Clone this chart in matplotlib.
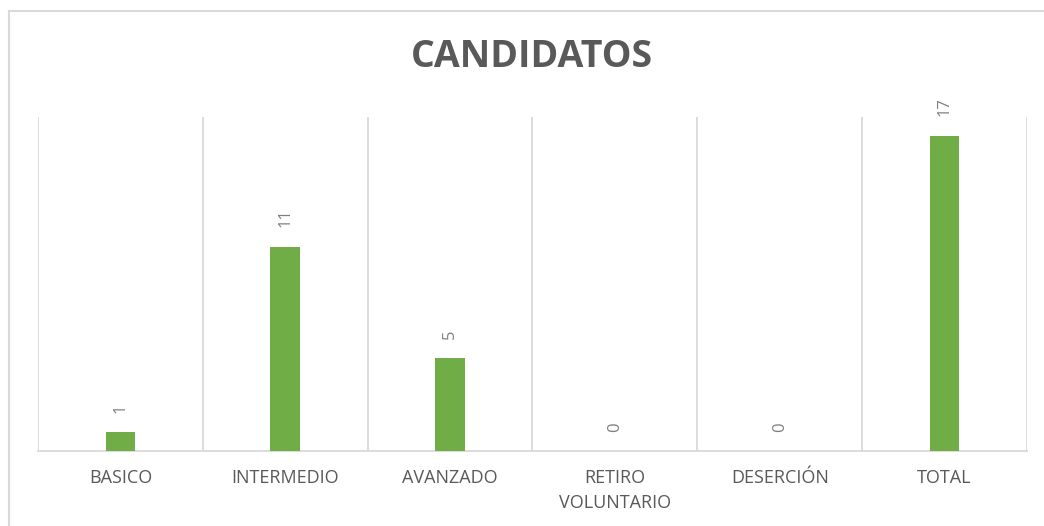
import matplotlib.pyplot as plt
from matplotlib.patches import Rectangle

# chart data
categories = ["BASICO", "INTERMEDIO", "AVANZADO", "RETIRO\nVOLUNTARIO", "DESERCIÓN", "TOTAL"]
values = [1, 11, 5, 0, 0, 17]
title = "CANDIDATOS"

bar_color = "#70AD47"
text_color = "#595959"
grid_color = "#D9D9D9"

plt.rcParams["font.family"] = ["Open Sans", "DejaVu Sans"]

fig = plt.figure(figsize=(10.44, 5.26), dpi=100)
W, H = 1044, 526
ax = fig.add_axes([38 / W, 1 - 451 / H, (1027 - 38) / W, (451 - 117) / H])

x = list(range(len(categories)))
bars = ax.bar(x, values, width=0.18, color=bar_color, zorder=3)

ax.set_xlim(-0.5, len(categories) - 0.5)
ax.set_ylim(0, 18)

# vertical separators between categories
for b in [i - 0.5 for i in range(len(categories) + 1)]:
    ax.axvline(b, color=grid_color, lw=1.3, zorder=1)

for s in ["top", "right", "left"]:
    ax.spines[s].set_visible(False)
ax.spines["bottom"].set_color(grid_color)
ax.spines["bottom"].set_linewidth(1.3)
ax.set_yticks([])
ax.set_xticks(x)
ax.set_xticklabels(categories, fontsize=13, color=text_color, linespacing=1.5)
ax.tick_params(axis="x", length=0, pad=13)

# value labels
for xi, v in zip(x, values):
    ax.annotate(str(v), (xi, v), xytext=(0, 14), textcoords="offset points",
                rotation=90, ha="center", va="bottom", fontsize=12,
                color="#7F7F7F")

fig.text(532 / W, 1 - 57 / H, title, ha="center", va="center",
         fontsize=27, fontweight="bold", color=text_color)

# outer chart border
fig.patches.append(Rectangle((9 / W, 1 - 560 / H), 1040 / W, 549 / H,
                             transform=fig.transFigure, fill=False,
                             edgecolor=grid_color, lw=1.5))

fig.savefig("out.png", dpi=100)
